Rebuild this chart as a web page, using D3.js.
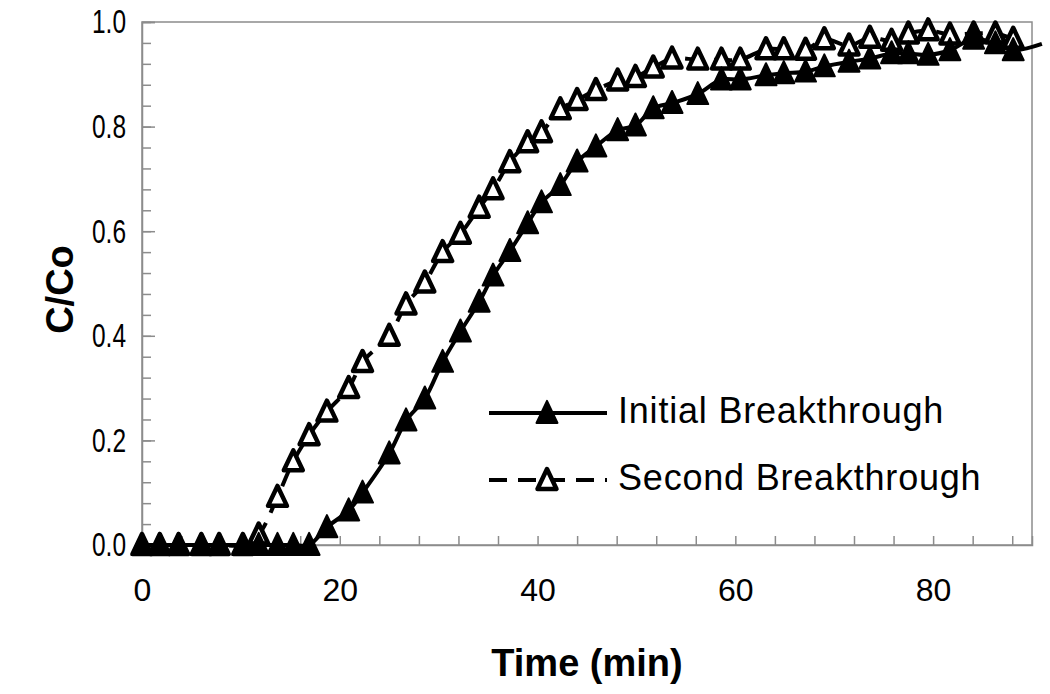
<!DOCTYPE html>
<html>
<head>
<meta charset="utf-8">
<script src="https://cdn.jsdelivr.net/npm/d3@7"></script>
<style>
  body { margin: 0; background: #fff; }
  text { font-family: "Liberation Sans", Arial, sans-serif; fill: #000; }
</style>
</head>
<body>
<svg id="chart"></svg>
<script>
// sample times (min), shared by both runs; last one sits just past the axis end
const times = [0, 1.8, 3.7, 6.0, 7.8, 10.2, 11.8, 13.7, 15.3, 16.9,
  18.7, 20.9, 22.3, 25.0, 26.7, 28.6, 30.4, 32.2, 34.1, 35.5,
  37.2, 39.0, 40.4, 42.3, 44.0, 45.9, 48.1, 49.9, 51.7, 53.6,
  56.2, 58.6, 60.5, 63.1, 64.9, 67.1, 69.0, 71.5, 73.6, 75.8,
  77.5, 79.5, 81.7, 84.1, 86.3, 88.1, 91.0];

const initialBreakthrough = [0, 0, 0, 0, 0, 0, 0, 0, 0, 0,
  0.034, 0.066, 0.10, 0.175, 0.238, 0.28, 0.35, 0.408, 0.465, 0.515,
  0.562, 0.615, 0.655, 0.688, 0.733, 0.762, 0.793, 0.802, 0.835, 0.845,
  0.862, 0.89, 0.89, 0.898, 0.902, 0.905, 0.915, 0.924, 0.93, 0.94,
  0.94, 0.937, 0.946, 0.968, 0.959, 0.946, 0.958];

const secondBreakthrough = [0, 0, 0, 0, 0, 0, 0.02, 0.092, 0.16, 0.21,
  0.255, 0.30, 0.35, 0.40, 0.46, 0.502, 0.56, 0.595, 0.645, 0.68,
  0.732, 0.77, 0.789, 0.833, 0.851, 0.87, 0.888, 0.895, 0.913, 0.93,
  0.928, 0.928, 0.928, 0.948, 0.948, 0.947, 0.967, 0.955, 0.97, 0.964,
  0.978, 0.984, 0.976, 0.978, 0.978, 0.968, null];

const seriesNames = ['Initial Breakthrough', 'Second Breakthrough'];
const xTickLabels = [0, 20, 40, 60, 80];
const yTickLabels = [0, 0.2, 0.4, 0.6, 0.8, 1.0];

const totalWidth = 1050;
const totalHeight = 694;
const margin = {
  top: 22,
  right: 18,
  bottom: 149,
  left: 142
};
const width = totalWidth - margin.left - margin.right;
const height = totalHeight - margin.top - margin.bottom;
const xMax = 90;
const axisGrey = '#8c8c8c';

const x = d3.scaleLinear().domain([0, xMax]).range([0, width]);
const y = d3.scaleLinear().domain([0, 1]).range([height, 0]);

const svg = d3.select('#chart')
    .attr('width', totalWidth)
    .attr('height', totalHeight)
  .append('g')
    .attr('transform', `translate(${margin.left}, ${margin.top})`);

// plot frame
svg.append('rect')
  .attr('width', width)
  .attr('height', height)
  .attr('fill', 'none')
  .attr('stroke', axisGrey)
  .attr('stroke-width', 1.5);

// x axis: inside ticks every 4 min, labels every 20
const xAxis = svg.append('g')
  .attr('transform', `translate(0, ${height})`)
  .call(d3.axisBottom(x)
    .tickValues(d3.range(0, xMax, 4))
    .tickSize(-9)
    .tickPadding(33)
    .tickFormat(d => xTickLabels.includes(d) ? d : ''));
xAxis.select('.domain').attr('stroke', axisGrey).attr('stroke-width', 1.5);
xAxis.selectAll('.tick line').attr('stroke', axisGrey).attr('stroke-width', 1.5);
xAxis.selectAll('text').attr('font-size', 32).attr('fill', '#000');

// y axis: minor ticks every 0.04, labelled majors every 0.2
const yMinor = svg.append('g')
  .call(d3.axisLeft(y)
    .tickValues(d3.range(0, 1.001, 0.04))
    .tickSize(-9)
    .tickFormat(''));
yMinor.select('.domain').remove();
yMinor.selectAll('.tick line').attr('stroke', axisGrey).attr('stroke-width', 1.5);

const labelSqueeze = 0.72;
const yAxis = svg.append('g')
  .call(d3.axisLeft(y)
    .tickValues(yTickLabels)
    .tickSize(-13)
    .tickPadding(16 / labelSqueeze)
    .tickFormat(d3.format('.1f')));
yAxis.select('.domain').attr('stroke', axisGrey).attr('stroke-width', 1.5);
yAxis.selectAll('.tick line').attr('stroke', axisGrey).attr('stroke-width', 1.5);
yAxis.selectAll('text')
  .attr('font-size', 34)
  .attr('fill', '#000')
  .attr('transform', `scale(${labelSqueeze}, 1)`);

// axis titles
svg.append('text')
  .attr('x', width / 2)
  .attr('y', height + 131)
  .attr('text-anchor', 'middle')
  .attr('font-size', 38)
  .attr('font-weight', 'bold')
  .text('Time (min)');

svg.append('text')
  .attr('transform', `translate(${73 - margin.left}, ${height / 2 + 6}) rotate(-90)`)
  .attr('text-anchor', 'middle')
  .attr('font-size', 38)
  .attr('font-weight', 'bold')
  .text('C/Co');

// triangles in the source are a touch taller than wide
const tallTriangle = {
  draw(context, size) {
    const w = Math.sqrt(size);
    const h = w * 1.05;
    context.moveTo(0, -h * 0.55);
    context.lineTo(w / 2, h * 0.45);
    context.lineTo(-w / 2, h * 0.45);
    context.closePath();
  }
};
const marker = size => d3.symbol().type(tallTriangle).size(size)();

const series = [
  {name: seriesNames[0], values: initialBreakthrough, dash: null, fill: '#000', size: 440, stroke: 2},
  {name: seriesNames[1], values: secondBreakthrough, dash: '18,11', fill: '#fff', size: 360, stroke: 4.5}
];

const graphLine = d3.line()
  .defined(d => d[1] != null)
  .x(d => x(d[0]))
  .y(d => y(d[1]))
  .curve(d3.curveCatmullRom);

// second run first, so the filled markers lie on top where they meet at zero
series.slice().reverse().forEach(s => {
  const pts = times.map((t, i) => [t, s.values[i]]);
  svg.append('path')
    .datum(pts)
    .attr('fill', 'none')
    .attr('stroke', '#000')
    .attr('stroke-width', 4)
    .attr('stroke-dasharray', s.dash)
    .attr('d', graphLine);
});

series.slice().reverse().forEach(s => {
  const pts = times.map((t, i) => [t, s.values[i]])
    .filter(d => d[1] != null && d[0] <= xMax);
  svg.append('g').selectAll('path')
    .data(pts)
    .join('path')
      .attr('transform', d => `translate(${x(d[0])}, ${y(d[1])})`)
      .attr('d', marker(s.size))
      .attr('fill', s.fill)
      .attr('stroke', '#000')
      .attr('stroke-width', s.stroke)
      .attr('stroke-linejoin', 'round');
});

// legend
const legend = svg.append('g')
  .attr('transform', `translate(${489 - margin.left}, ${413 - margin.top})`);

series.forEach((s, i) => {
  const row = legend.append('g').attr('transform', `translate(0, ${i * 67})`);
  row.append('line')
    .attr('x1', 0)
    .attr('x2', 118)
    .attr('stroke', '#000')
    .attr('stroke-width', 4)
    .attr('stroke-dasharray', s.dash);
  row.append('path')
    .attr('transform', 'translate(58, 0)')
    .attr('d', marker(s.size))
    .attr('fill', s.fill)
    .attr('stroke', '#000')
    .attr('stroke-width', s.stroke)
    .attr('stroke-linejoin', 'round');
  row.append('text')
    .attr('x', 129)
    .attr('y', 10)
    .attr('font-size', 36)
    .attr('letter-spacing', 0.8)
    .text(s.name);
});
</script>
</body>
</html>
